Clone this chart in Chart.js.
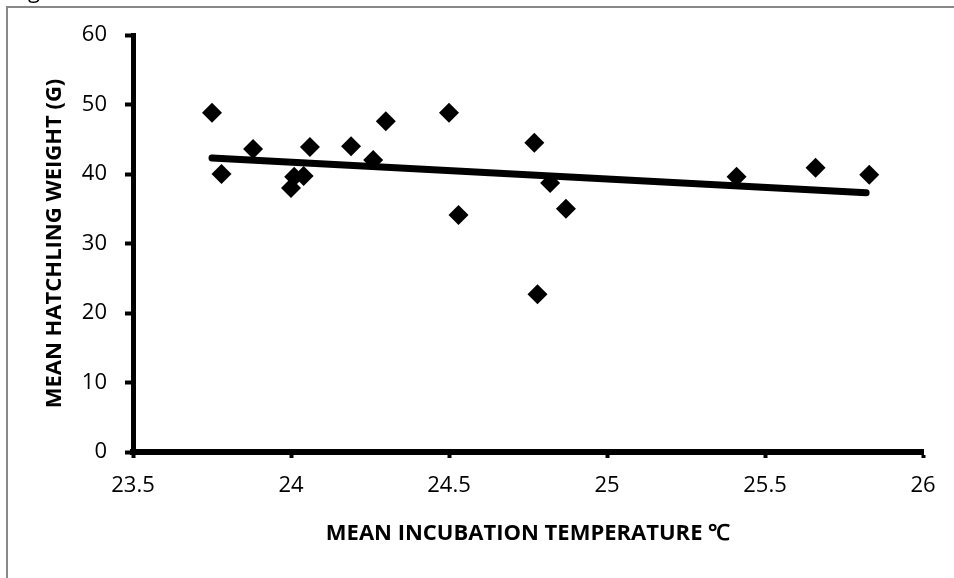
<!DOCTYPE html>
<html>
<head>
<meta charset="utf-8">
<script src="https://cdn.jsdelivr.net/npm/chart.js@4/dist/chart.umd.min.js"></script>
<style>
  html, body { margin: 0; padding: 0; background: #fff; }
  #wrap { width: 954px; height: 578px; position: relative; }
</style>
</head>
<body>
<div id="wrap"><canvas id="c" width="954" height="578"></canvas></div>
<script>
// Data
const temperature = [23.75, 23.78, 23.88, 24.00, 24.01, 24.04, 24.06, 24.19, 24.26, 24.30, 24.50, 24.53, 24.77, 24.78, 24.82, 24.87, 25.41, 25.66, 25.83];
const weight      = [48.8,  40.0,  43.6,  38.0,  39.6,  39.7,  43.9,  44.0,  42.0,  47.6,  48.8,  34.1,  44.5,  22.7,  38.7,  35.0,  39.6,  40.9,  39.9];
const trendX = [23.75, 25.82];
const trendY = [42.3, 37.3];
const xTicks = [23.5, 24, 24.5, 25, 25.5, 26];
const xTickLabels = ["23.5", "24", "24.5", "25", "25.5", "26"];
const yTicks = [0, 10, 20, 30, 40, 50, 60];
const xTitle = "MEAN INCUBATION TEMPERATURE \u2103";
const yTitle = "MEAN HATCHLING WEIGHT (G)";

const points = temperature.map((t, i) => ({ x: t, y: weight[i] }));
const trend = trendX.map((t, i) => ({ x: t, y: trendY[i] }));

const framePlugin = {
  id: 'frame',
  beforeDraw(chart) {
    const ctx = chart.ctx;
    ctx.save();
    ctx.fillStyle = '#fff';
    ctx.fillRect(0, 0, chart.width, chart.height);
    ctx.strokeStyle = '#888';
    ctx.lineWidth = 2;
    ctx.beginPath();
    ctx.moveTo(7, chart.height);
    ctx.lineTo(7, 7);
    ctx.lineTo(chart.width, 7);
    ctx.stroke();
    ctx.fillStyle = '#000';
    ctx.font = '22px "Open Sans"';
    ctx.textBaseline = 'alphabetic';
    ctx.fillText('g', 28, -2);
    ctx.restore();
  }
};

new Chart(document.getElementById('c'), {
  type: 'scatter',
  data: {
    datasets: [
      {
        type: 'line',
        data: trend,
        borderColor: '#000',
        borderWidth: 7,
        borderCapStyle: 'round',
        pointRadius: 0,
        fill: false,
        order: 2
      },
      {
        data: points,
        pointStyle: 'rectRot',
        pointRadius: 10,
        pointHoverRadius: 10,
        backgroundColor: '#000',
        borderColor: '#000',
        borderWidth: 0,
        order: 1
      }
    ]
  },
  plugins: [framePlugin],
  options: {
    responsive: false,
    animation: false,
    events: [],
    layout: { padding: { top: 35, right: 31, left: 0, bottom: 0 } },
    plugins: { legend: { display: false }, tooltip: { enabled: false } },
    scales: {
      x: {
        type: 'linear',
        min: 23.5, max: 26,
        afterBuildTicks(scale) { scale.ticks = xTicks.map(v => ({ value: v })); },
        afterFit(scale) { scale.height = 126; },
        border: { display: true, color: '#000', width: 6 },
        grid: { display: true, drawOnChartArea: false, drawTicks: true, tickLength: 6, tickColor: '#000', tickWidth: 4 },
        ticks: {
          color: '#000', font: { family: '"Open Sans"', size: 22 }, padding: 15, maxRotation: 0,
          callback: (v, i) => xTickLabels[i]
        },
        title: { display: true, text: xTitle, color: '#000', font: { family: '"Open Sans"', size: 22, weight: 'bold' }, padding: 31 }
      },
      y: {
        type: 'linear',
        min: 0, max: 60,
        afterBuildTicks(scale) { scale.ticks = yTicks.map(v => ({ value: v })); },
        afterFit(scale) { scale.width = 133; },
        border: { display: true, color: '#000', width: 5 },
        grid: { display: true, drawOnChartArea: false, drawTicks: true, tickLength: 8, tickColor: '#000', tickWidth: 4 },
        ticks: { color: '#000', font: { family: '"Open Sans"', size: 22 }, padding: 18 },
        title: { display: true, text: yTitle, color: '#000', font: { family: '"Open Sans"', size: 22, weight: 'bold' }, padding: 42 }
      }
    }
  }
});
</script>
</body>
</html>
